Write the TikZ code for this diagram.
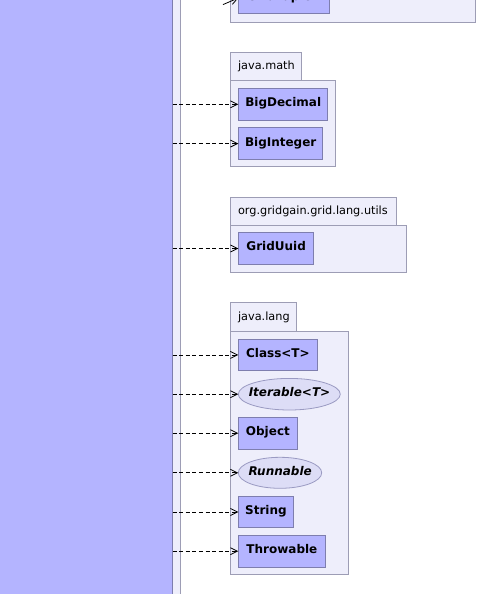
\documentclass[tikz,border=0pt]{standalone}
\usepackage{fontspec}
\setmainfont{DejaVu Sans}
\usetikzlibrary{arrows.meta}
\definecolor{clsfill}{HTML}{B4B4FF}
\definecolor{clsdraw}{HTML}{7E7EAE}
\definecolor{pkgfill}{HTML}{EEEEFB}
\definecolor{pkgdraw}{HTML}{9D9DB5}
\definecolor{ifcfill}{HTML}{DDDDF6}
\definecolor{ifcdraw}{HTML}{9A9AC2}
\tikzset{
  pkg/.style={fill=pkgfill, draw=pkgdraw, line width=0.8pt},
  pkglabel/.style={anchor=base west, inner sep=0pt, font=\fontsize{11.3}{13}\selectfont},
  cls/.style={draw=clsdraw, fill=clsfill, line width=0.8pt, anchor=west, inner sep=0pt,
    minimum height=31.5pt, text height=8.8pt, text depth=4pt,
    font=\fontsize{12}{14}\selectfont\bfseries},
  ifc/.style={anchor=west, inner sep=0pt,
    minimum height=31pt, text height=8.8pt, text depth=4pt,
    font=\fontsize{12}{14}\selectfont\bfseries\itshape},
  ifcshape/.style={draw=ifcdraw, fill=ifcfill, line width=0.8pt},
  dep/.style={dashed, dash pattern=on 4pt off 2.6pt, line width=0.8pt, -{Straight Barb[length=7pt,width=7pt]}},
  deps/.style={line width=0.8pt, -{Straight Barb[length=7pt,width=7pt]}}
}
\begin{document}
\begin{tikzpicture}[x=1pt, y=-1pt]
\useasboundingbox (0,0) rectangle (477,594);
% outer package and source class (cut off)
\draw[pkg] (-20,-20) rectangle (180.5,614);
\node[draw=clsdraw, fill=clsfill, line width=0.8pt, minimum width=200pt, minimum height=640pt, anchor=north east, inner sep=0pt] (src) at (172.5,-20) {};

% top package (cut off)
\draw[pkg] (230,-40) rectangle (475.5,22.3);
\node[cls, minimum width=90.7pt] (gt) at (238.3,-2) {GridTupleV};
\coordinate (gtin) at (223,4.6);
\draw[deps] (gtin) -- (gt.west);

% java.math
\draw[pkg] (230,52.3) rectangle (301.7,80.3);
\draw[pkg] (230,80.3) rectangle (335.3,166.5);
\node[pkglabel] (lmath) at (237.8,69.6) {java.math};
\node[cls, minimum width=89pt] (bd) at (238.3,104.3) {BigDecimal};
\node[cls, minimum width=84pt] (bi) at (238.3,143.6) {BigInteger};

% org.gridgain.grid.lang.utils
\draw[pkg] (230,197.3) rectangle (396.7,225);
\draw[pkg] (230,225) rectangle (406.7,272.3);
\node[pkglabel] (lutils) at (237.8,214.8) {org.gridgain.grid.lang.utils};
\node[cls, minimum width=75pt] (uuid) at (238.3,248.5) {GridUuid};

% java.lang
\draw[pkg] (230,302.3) rectangle (296.7,331);
\draw[pkg] (230,331) rectangle (348.3,574.3);
\node[pkglabel] (llang) at (237.8,320.2) {java.lang};
\node[cls, minimum width=78.4pt] (cl) at (238.3,354.9) {Class<T>};
\draw[ifcshape] (289.3,394.2) ellipse [x radius=51pt, y radius=15.8pt];
\node[ifc, minimum width=102pt] (it) at (238.3,394.2) {Iterable<T>};
\node[cls, minimum width=58.4pt] (ob) at (238.3,433.2) {Object};
\draw[ifcshape] (280,472.8) ellipse [x radius=41.7pt, y radius=15.5pt];
\node[ifc, minimum width=83.4pt] (ru) at (238.3,472.8) {Runnable};
\node[cls, minimum width=54.4pt] (st) at (238.3,512) {String};
\node[cls, minimum width=86.4pt] (th) at (238.3,551.2) {Throwable};

% dependencies
\foreach \t in {bd,bi,uuid,cl,it,ob,ru,st,th}
  \draw[dep] (src.east |- \t.west) -- (\t.west);
\end{tikzpicture}
\end{document}
